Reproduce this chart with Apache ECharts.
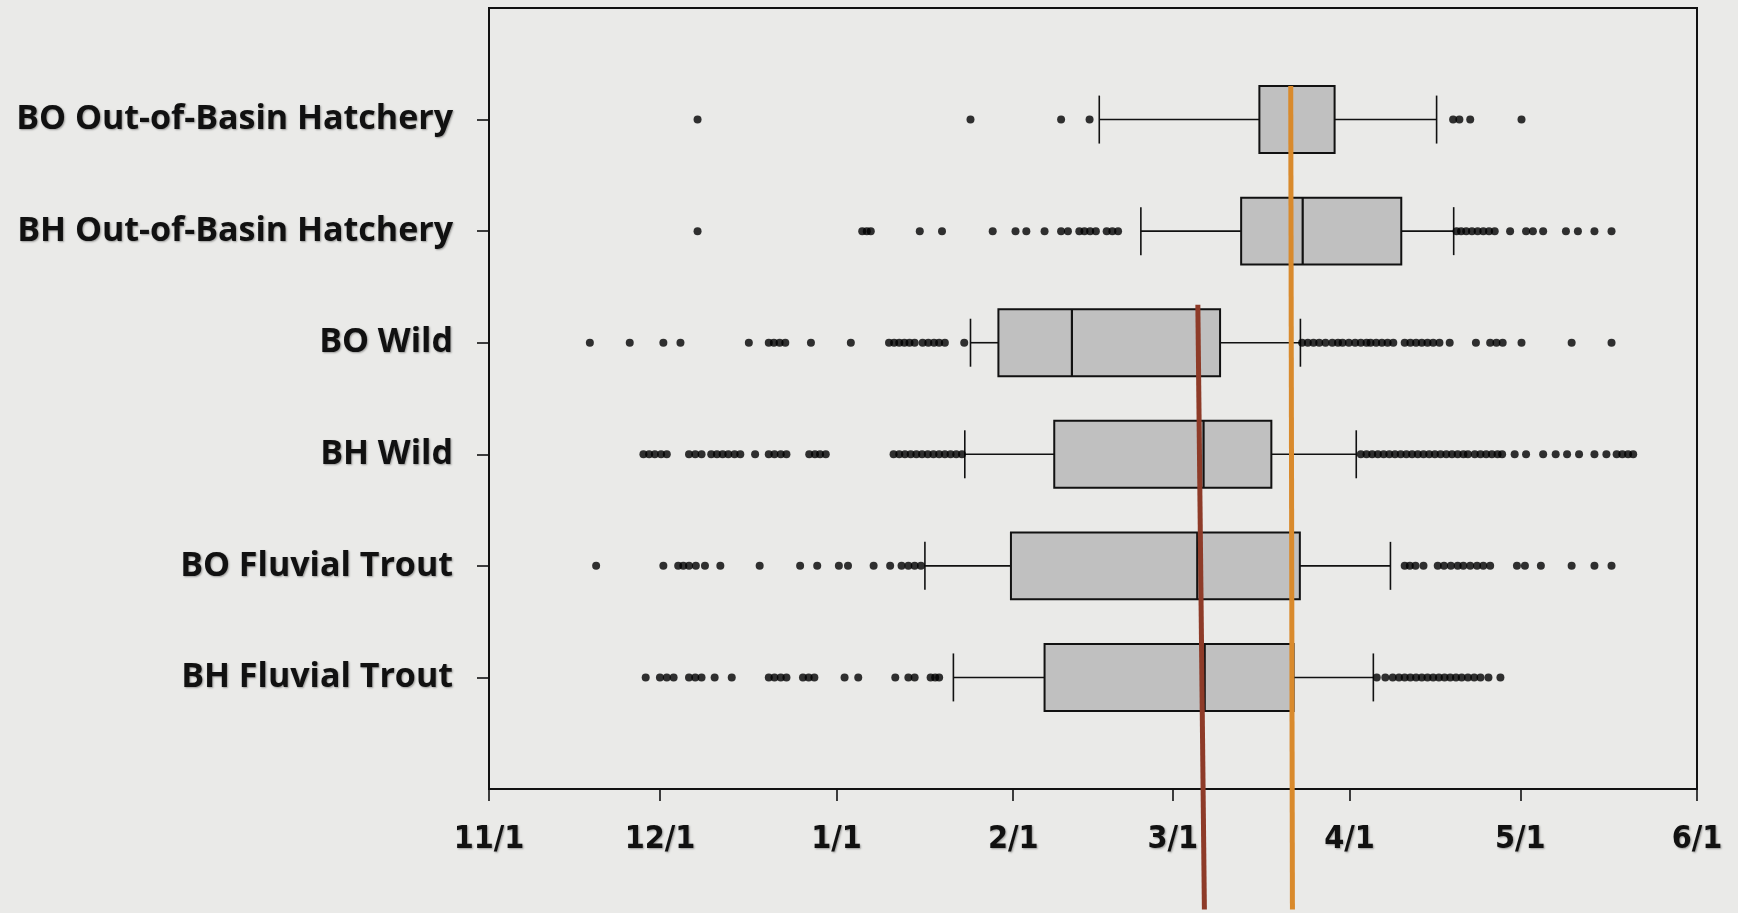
<!DOCTYPE html>
<html>
<head>
<meta charset="utf-8">
<title>Migration timing box plots</title>
<script src="https://cdn.jsdelivr.net/npm/echarts@6/dist/echarts.min.js"></script>
<style>
  html, body { margin: 0; padding: 0; background: #EAEAE8; }
  #chart { width: 1738px; height: 913px; }
</style>
</head>
<body>
<div id="chart"></div>
<script>
// Dates are stored as days after November 1 (11/1 = 0, 6/1 = 212).
const tickDays = [0, 30, 61, 92, 120, 151, 181, 212];
const tickLabels = ['11/1', '12/1', '1/1', '2/1', '3/1', '4/1', '5/1', '6/1'];

const categories = [
  'BO Out-of-Basin Hatchery',
  'BH Out-of-Basin Hatchery',
  'BO Wild',
  'BH Wild',
  'BO Fluvial Trout',
  'BH Fluvial Trout'
];

const whiskerLow  = [107.1, 114.4, 84.5, 83.5, 76.5, 81.5];
const quartile1   = [135.2, 132.0, 89.4, 99.2, 91.6, 97.5];
const medians     = [140.7, 142.8, 102.3, 125.4, 124.3, 125.6];
const quartile3   = [148.4, 160.1, 128.3, 137.3, 142.3, 141.2];
const whiskerHigh = [166.3, 169.3, 142.4, 152.2, 158.2, 155.2];

const outliersBOHatchery = [36.6, 84.5, 100.4, 105.4, 169.2, 170.3, 172.2, 181.2];
const outliersBHHatchery = [
  36.6, 65.5, 66.3, 67.0, 75.6, 79.5, 88.4, 92.4, 94.3, 97.5, 100.4, 101.6,
  103.6, 104.5, 105.5, 106.5, 108.4, 109.4, 110.4,
  169.8, 170.6, 171.5, 172.5, 173.5, 174.5, 175.5, 176.5, 179.2,
  182.0, 183.2, 185.0, 189.0, 191.1, 194.0, 197.0
];
const outliersBOWild = [
  17.7, 24.7, 30.6, 33.6, 45.6, 49.1, 50.0, 51.0, 52.0, 56.5, 63.5,
  70.2, 71.1, 72.0, 72.9, 73.8, 74.7, 76.1, 77.1, 78.1, 79.0, 80.0, 83.4,
  142.7, 143.7, 144.7, 145.7, 146.8, 148.0, 149.0, 149.8, 150.9, 152.0, 153.0, 154.0,
  154.7, 155.7, 156.7, 157.7, 158.7, 160.7, 161.7, 162.7, 163.7, 164.7, 165.7,
  166.8, 168.6, 173.2, 175.7, 176.8, 177.9, 181.2, 190.0, 197.0
];
const outliersBHWild = [
  27.1, 28.1, 29.1, 30.2, 31.2, 35.1, 36.2, 37.3, 39.0, 40.0, 41.0, 42.0, 43.1, 44.1,
  46.7, 49.1, 50.1, 51.2, 52.2, 56.2, 57.2, 58.1, 59.1,
  71.0, 72.0, 73.0, 74.0, 75.0, 76.0, 77.0, 78.0, 79.0, 80.0, 81.0, 82.0, 83.0,
  153.0, 154.0, 155.0, 156.0, 157.0, 158.0, 159.0, 160.0, 161.0, 162.0, 163.0,
  164.0, 165.0, 166.0, 167.0, 168.0, 169.0, 170.0, 171.0, 171.8,
  173.0, 174.0, 175.0, 176.0, 177.0, 177.8, 180.0, 182.0,
  185.0, 187.2, 189.2, 191.3, 194.0, 196.1, 197.9, 198.9, 199.9, 200.8
];
const outliersBOFluvial = [
  18.8, 30.6, 33.2, 34.1, 35.1, 36.3, 37.9, 40.6, 47.5, 54.6, 57.6, 61.4, 63.0,
  67.5, 70.4, 72.4, 73.6, 74.7, 75.8,
  160.7, 161.6, 162.6, 164.0, 166.5, 167.6, 168.8, 170.0, 171.0, 172.2, 173.4,
  174.5, 175.7, 180.4, 181.8, 184.6, 190.0, 194.0, 197.0
];
const outliersBHFluvial = [
  27.5, 30.0, 31.2, 32.4, 35.1, 36.2, 37.3, 39.6, 42.6, 49.1, 50.1, 51.2, 52.2,
  55.1, 56.1, 57.1, 62.4, 64.8, 71.3, 73.6, 74.7, 77.5, 78.3, 79.0,
  155.8, 157.3, 158.6, 159.7, 160.7, 161.7, 162.7, 163.7, 164.7, 165.7, 166.7,
  167.7, 168.7, 169.7, 170.7, 171.8, 172.9, 174.0, 175.4, 177.5
];
const outlierGroups = [
  outliersBOHatchery, outliersBHHatchery, outliersBOWild,
  outliersBHWild, outliersBOFluvial, outliersBHFluvial
];

// Two marker lines, endpoints given as [day, row position]
const orangeMarkerLine = [[140.7, 0.70], [141.0, 8.08]];
const brownMarkerLine  = [[124.4, 2.66], [125.55, 8.08]];

// ---- derived series data ----
const boxData = categories.map((c, i) => [
  i + 1, whiskerLow[i], quartile1[i], medians[i], quartile3[i], whiskerHigh[i]
]);
const outlierData = [];
outlierGroups.forEach((list, i) => {
  list.forEach(d => outlierData.push([d, i + 1]));
});

function renderBox(params, api) {
  const row = api.value(0);
  const pLo = api.coord([api.value(1), row]);
  const pQ1 = api.coord([api.value(2), row]);
  const pMd = api.coord([api.value(3), row]);
  const pQ3 = api.coord([api.value(4), row]);
  const pHi = api.coord([api.value(5), row]);
  const unit = api.size([0, 1])[1];
  const boxHalf = unit * 0.30;
  const capHalf = unit * 0.215;
  const y = pLo[1];
  const thin = { stroke: '#111', lineWidth: 1.6 };
  return {
    type: 'group',
    children: [
      { type: 'line', shape: { x1: pLo[0], y1: y, x2: pQ1[0], y2: y }, style: thin },
      { type: 'line', shape: { x1: pQ3[0], y1: y, x2: pHi[0], y2: y }, style: thin },
      { type: 'line', shape: { x1: pLo[0], y1: y - capHalf, x2: pLo[0], y2: y + capHalf }, style: thin },
      { type: 'line', shape: { x1: pHi[0], y1: y - capHalf, x2: pHi[0], y2: y + capHalf }, style: thin },
      {
        type: 'rect',
        shape: { x: pQ1[0], y: y - boxHalf, width: pQ3[0] - pQ1[0], height: boxHalf * 2 },
        style: { fill: '#C0C0C0', stroke: '#111', lineWidth: 2 }
      },
      { type: 'line', shape: { x1: pMd[0], y1: y - boxHalf, x2: pMd[0], y2: y + boxHalf },
        style: { stroke: '#111', lineWidth: 2.2 } }
    ]
  };
}

const chart = echarts.init(document.getElementById('chart'), null, { renderer: 'canvas' });

const labelShadow = {
  textShadowColor: 'rgba(0,0,0,0.35)',
  textShadowBlur: 2,
  textShadowOffsetX: 1,
  textShadowOffsetY: 1
};

chart.setOption({
  backgroundColor: '#EAEAE8',
  animation: false,
  grid: {
    left: 489, right: 41, top: 8, bottom: 124,
    show: true,
    borderColor: '#111',
    borderWidth: 2,
    backgroundColor: 'transparent',
    outerBoundsMode: 'none'
  },
  xAxis: {
    type: 'value',
    min: 0,
    max: 212,
    splitLine: { show: false },
    axisLine: { show: true, onZero: false, lineStyle: { color: '#111', width: 2 } },
    axisTick: {
      show: true, length: 12, customValues: tickDays,
      lineStyle: { color: '#111', width: 1.6 }
    },
    axisLabel: Object.assign({
      customValues: tickDays,
      formatter: v => tickLabels[tickDays.indexOf(v)],
      margin: 35,
      color: '#111',
      fontFamily: 'DejaVu Sans Condensed',
      fontWeight: 'bold',
      fontSize: 32
    }, labelShadow)
  },
  yAxis: {
    type: 'value',
    inverse: true,
    min: 0,
    max: 7,
    splitLine: { show: false },
    axisLine: { show: true, onZero: false, lineStyle: { color: '#111', width: 2 } },
    axisTick: {
      show: true, length: 12, customValues: [1, 2, 3, 4, 5, 6],
      lineStyle: { color: '#111', width: 1.6 }
    },
    axisLabel: Object.assign({
      customValues: [1, 2, 3, 4, 5, 6],
      formatter: v => categories[v - 1],
      margin: 36,
      color: '#111',
      fontFamily: 'Open Sans',
      fontWeight: 'bold',
      fontSize: 34
    }, labelShadow)
  },
  series: [
    {
      type: 'custom',
      renderItem: renderBox,
      encode: { x: [1, 2, 3, 4, 5], y: 0 },
      data: boxData,
      z: 2
    },
    {
      type: 'scatter',
      data: outlierData,
      symbol: 'circle',
      symbolSize: 8,
      itemStyle: { color: '#000' },
      z: 3
    },
    {
      type: 'line',
      data: brownMarkerLine,
      symbol: 'none',
      clip: false,
      lineStyle: { color: '#8E3B28', width: 5 },
      z: 5
    },
    {
      type: 'line',
      data: orangeMarkerLine,
      symbol: 'none',
      clip: false,
      lineStyle: { color: '#D98A2C', width: 5 },
      z: 5
    }
  ]
});
</script>
</body>
</html>
